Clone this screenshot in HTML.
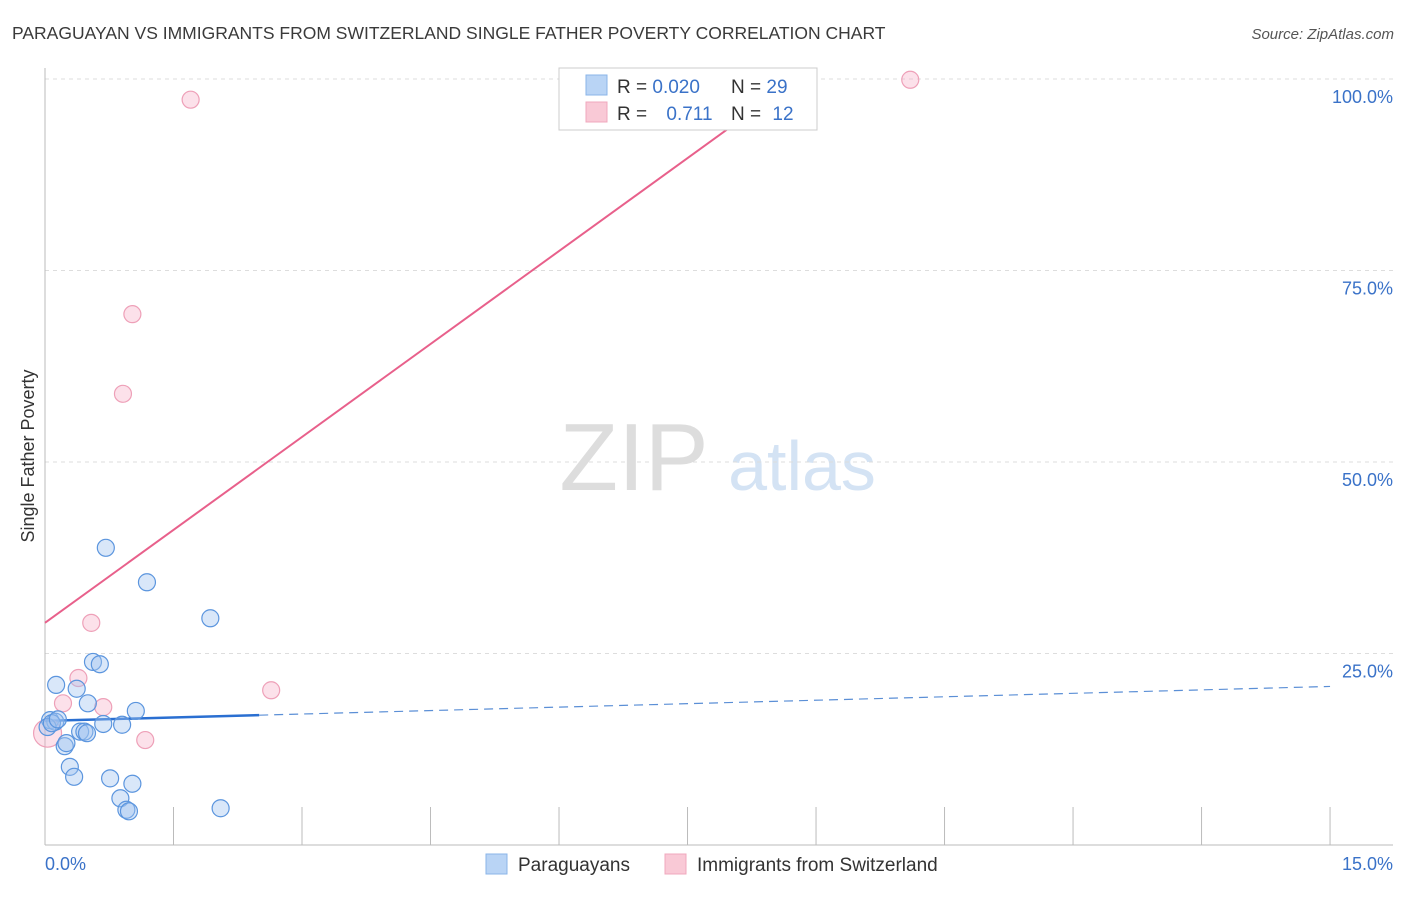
<!DOCTYPE html>
<html><head><meta charset="utf-8"><style>
body{margin:0;background:#fff;font-family:"Liberation Sans",sans-serif;}
svg text{font-family:"Liberation Sans",sans-serif;}
</style></head><body>
<svg id="chart" width="1406" height="892" viewBox="0 0 1406 892" xmlns="http://www.w3.org/2000/svg">
<text x="12" y="39" font-size="17.5" fill="#3a3a3a">PARAGUAYAN VS IMMIGRANTS FROM SWITZERLAND SINGLE FATHER POVERTY CORRELATION CHART</text>
<text x="1394" y="39" font-size="15" fill="#555" font-style="italic" text-anchor="end">Source: ZipAtlas.com</text>
<g>
<text x="634" y="490" font-size="96" fill="#ddd" text-anchor="middle" font-family="Liberation Serif,serif">ZIP</text>
<text x="802" y="490" font-size="70" fill="#d4e3f4" text-anchor="middle">atlas</text>
</g>
<g id="grid"></g>
<g id="axes"></g>
<g id="lines"></g>
<g id="points"></g>
<text transform="translate(34,456) rotate(-90)" font-size="18" fill="#333" text-anchor="middle">Single Father Poverty</text>
<g>
<rect x="559" y="68" width="258" height="62" fill="#fff" stroke="#ccc"/>
<rect x="586" y="75" width="21" height="20" fill="#b9d4f5" stroke="#8ab4e8"/>
<rect x="586" y="102" width="21" height="20" fill="#f9c9d6" stroke="#f0a8bd"/>
<text x="617" y="93" font-size="19" fill="#333">R = <tspan fill="#3a72c8">0.020</tspan></text>
<text x="731" y="93" font-size="19" fill="#333">N = <tspan fill="#3a72c8">29</tspan></text>
<text x="617" y="120" font-size="19" fill="#333">R = <tspan fill="#3a72c8" dx="14">0.711</tspan></text>
<text x="731" y="120" font-size="19" fill="#333">N = <tspan fill="#3a72c8" dx="6">12</tspan></text>
</g>
<g>
<rect x="486" y="854" width="21" height="20" fill="#b9d4f5" stroke="#8ab4e8"/>
<text x="518" y="871" font-size="19" fill="#333">Paraguayans</text>
<rect x="665" y="854" width="21" height="20" fill="#f9c9d6" stroke="#f0a8bd"/>
<text x="697" y="871" font-size="19" fill="#333">Immigrants from Switzerland</text>
</g>
</svg>
<script>
const blueX=[0.71,1.19,1.93,0.56,0.64,0.13,0.37,0.50,1.06,0.06,0.12,0.68,0.90,0.41,0.46,0.49,0.23,0.25,0.29,0.34,0.76,1.02,0.88,0.95,0.98,2.05,0.03,0.08,0.15];
const blueY=[38.8,34.3,29.6,23.9,23.6,20.9,20.4,18.5,17.5,16.3,16.1,15.8,15.7,14.8,14.8,14.6,12.9,13.3,10.2,8.9,8.7,8.0,6.1,4.6,4.4,4.8,15.4,15.9,16.4];
const pinkX=[1.70,10.10,7.21,1.02,0.91,0.54,0.39,0.21,0.68,2.64,1.17,0.03];
const pinkY=[97.3,99.9,100.0,69.3,58.9,29.0,21.8,18.5,18.0,20.2,13.7,14.6];
const yTicks=[25,50,75,100];
const yTickLabels=["25.0%","50.0%","75.0%","100.0%"];
const xTickLabels=["0.0%","15.0%"];
const blueFit=[16.2,0.30];
const pinkFit=[29.0,8.09];
const NS="http://www.w3.org/2000/svg";
const X=v=>45+v*85.67, Y=v=>845-v*7.66;
function mk(p,t,a){const e=document.createElementNS(NS,t);for(const k in a)e.setAttribute(k,a[k]);document.getElementById(p).appendChild(e);return e;}
yTicks.forEach((t,i)=>{
 const l=mk('grid','line',{x1:45,x2:1393,y1:Y(t),y2:Y(t),stroke:'#ddd','stroke-dasharray':'4,4'});
 
 
 const tx=mk('grid','text',{x:1393,y:Y(t)+24,'font-size':18,fill:'#3a72c8','text-anchor':'end'});
 tx.textContent=yTickLabels[i];
 
 
});
let a=mk('axes','line',{x1:45,x2:45,y1:68,y2:845,stroke:'#bbb'});


a=mk('axes','line',{x1:45,x2:1393,y1:845,y2:845,stroke:'#bbb'});


for(let i=1;i<=10;i++){const t=mk('axes','line',{x1:X(i*1.5),x2:X(i*1.5),y1:807,y2:845,stroke:'#bbb'});
 
 }
[[0,'start',45],[1,'end',1393]].forEach(([i,anc,x])=>{const t=mk('axes','text',{x:x,y:870,'font-size':18,fill:'#3a72c8','text-anchor':anc});t.textContent=xTickLabels[i];
 
 });
let ln=mk('lines','line',{x1:X(0),y1:Y(pinkFit[0]),x2:X((100-pinkFit[0])/pinkFit[1]),y2:Y(100),stroke:'#e8608b','stroke-width':2});


ln=mk('lines','line',{x1:X(0),y1:Y(blueFit[0]),x2:X(2.5),y2:Y(blueFit[0]+blueFit[1]*2.5),stroke:'#2a6fd1','stroke-width':2.5});


ln=mk('lines','line',{x1:X(2.5),y1:Y(blueFit[0]+blueFit[1]*2.5),x2:X(15),y2:Y(blueFit[0]+blueFit[1]*15),stroke:'#5b8fd6','stroke-width':1.2,'stroke-dasharray':'9,6'});


pinkX.forEach((x,i)=>{const c=mk('points','circle',{cx:X(x),cy:Y(pinkY[i]),r:i==11?14:8.5,fill:'rgba(246,170,195,0.35)',stroke:'#eea0b8','stroke-width':1.2});
 
 });
blueX.forEach((x,i)=>{const c=mk('points','circle',{cx:X(x),cy:Y(blueY[i]),r:8.5,fill:'rgba(160,195,240,0.4)',stroke:'#5b95de','stroke-width':1.2});
 
 });
</script>
</body></html>
